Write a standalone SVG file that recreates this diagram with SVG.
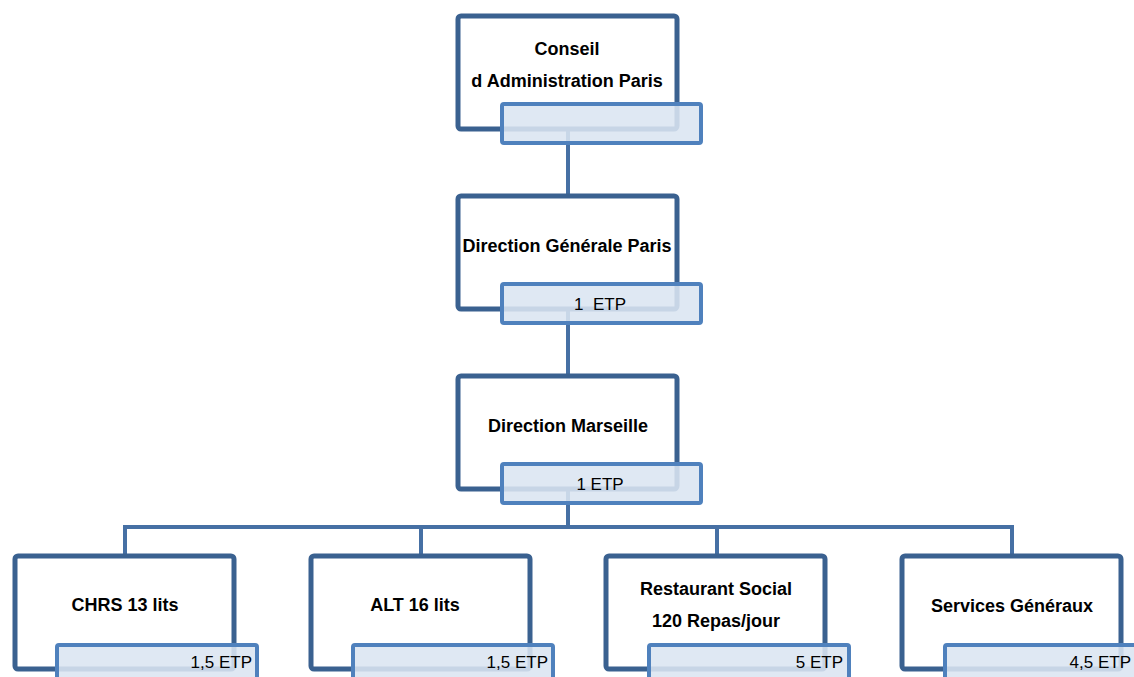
<svg xmlns="http://www.w3.org/2000/svg" width="1134" height="677" viewBox="0 0 1134 677">
<style>
.main{fill:#ffffff;stroke:#3a6190;stroke-width:5}
.sub{fill:#dbe5f1;fill-opacity:0.88;stroke:#4f81bd;stroke-width:4}
.conn{fill:none;stroke:#4670a4;stroke-width:4}
.name{font-family:"Liberation Sans",Arial,sans-serif;font-weight:bold;font-size:18px;fill:#000;text-anchor:middle}
.etp{font-family:"Liberation Sans",Arial,sans-serif;font-size:17px;fill:#000}
</style>
<rect width="1134" height="677" fill="#ffffff"/>
<g id="connectors">
<path class="conn" d="M568,130 V195 M568,310 V375 M568,490 V527 M125,555 V527 H1012 V555 M421,527 V555 M717,527 V555"/>
</g>
<g id="n-conseil">
<rect class="main" x="458" y="16" width="219" height="113" rx="3"/>
<rect class="sub" x="502" y="104" width="199" height="39" rx="2"/>
<text class="name" x="567" y="55">Conseil</text>
<text class="name" x="567" y="87">d Administration Paris</text>
</g>
<g id="n-dg">
<rect class="main" x="458" y="196" width="219" height="113" rx="3"/>
<rect class="sub" x="502" y="284" width="199" height="39" rx="2"/>
<text class="name" x="567" y="252">Direction Générale Paris</text>
<text class="etp" x="600" y="310" text-anchor="middle" xml:space="preserve">1  ETP</text>
</g>
<g id="n-marseille">
<rect class="main" x="458" y="376" width="219" height="113" rx="3"/>
<rect class="sub" x="502" y="464" width="199" height="39" rx="2"/>
<text class="name" x="568" y="432">Direction Marseille</text>
<text class="etp" x="600" y="490" text-anchor="middle">1 ETP</text>
</g>
<g id="n-chrs">
<rect class="main" x="15" y="556" width="219" height="113" rx="3"/>
<rect class="sub" x="57" y="645" width="200" height="45" rx="2"/>
<text class="name" x="125" y="611">CHRS 13 lits</text>
<text class="etp" x="252" y="668" text-anchor="end">1,5 ETP</text>
</g>
<g id="n-alt">
<rect class="main" x="311" y="556" width="219" height="113" rx="3"/>
<rect class="sub" x="353" y="645" width="200" height="45" rx="2"/>
<text class="name" x="415" y="611">ALT 16 lits</text>
<text class="etp" x="548" y="668" text-anchor="end">1,5 ETP</text>
</g>
<g id="n-resto">
<rect class="main" x="606" y="556" width="219" height="113" rx="3"/>
<rect class="sub" x="649" y="645" width="200" height="45" rx="2"/>
<text class="name" x="716" y="595">Restaurant Social</text>
<text class="name" x="716" y="627">120 Repas/jour</text>
<text class="etp" x="843" y="668" text-anchor="end">5 ETP</text>
</g>
<g id="n-services">
<rect class="main" x="902" y="556" width="219" height="113" rx="3"/>
<rect class="sub" x="945" y="645" width="200" height="45" rx="2"/>
<text class="name" x="1012" y="612">Services Généraux</text>
<text class="etp" x="1131" y="668" text-anchor="end">4,5 ETP</text>
</g>
</svg>
